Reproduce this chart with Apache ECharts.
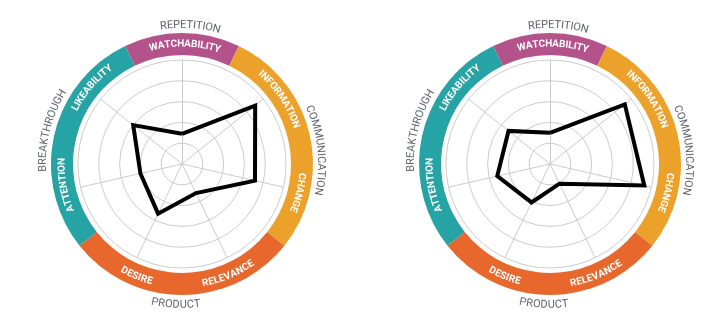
<!DOCTYPE html>
<html><head><meta charset="utf-8">
<script src="https://cdn.jsdelivr.net/npm/echarts@6/dist/echarts.min.js"></script>
<style>html,body{margin:0;padding:0;background:#fff}#c{width:722px;height:326px}</style>
</head><body><div id="c"></div>
<script>
// ---- data ----
const axisNames = ['WATCHABILITY','INFORMATION','CHANGE','RELEVANCE','DESIRE','ATTENTION','LIKEABILITY']; // clockwise from top
const groupNames = ['REPETITION','COMMUNICATION','PRODUCT','BREAKTHROUGH'];
const groupSizes = [1, 2, 2, 2]; // number of axes in each group
const leftValues  = [29, 90, 72, 31, 53, 41, 60];
const rightValues = [30, 92, 93, 21, 41, 52, 51];
const axisMax = 100;

// ---- styles / layout ----
const groupColors = ['#b4528c', '#eca12b', '#e7672c', '#26a3a5'];
const centers = [[182, 164], [550, 164]];
const gridR = 104, ringIn = 109, ringOut = 131;
const innerNudge = [1.4, 5, 1, 3, -3.7, 2.7, 1.7];
const groupNudge = [3.5, 7, 2.5, 1.5];

const n = axisNames.length;
const step = 360 / n;
// ECharts radar places indicators counter-clockwise; reorder so they read clockwise
const order = [0].concat(Array.from({length: n - 1}, (_, k) => n - 1 - k));

const ctx = document.createElement('canvas').getContext('2d');
function arcText(els, cx, cy, r, centerDeg, text, font, fill, flip) {
  ctx.font = font;
  const chars = Array.from(text);
  const ws = chars.map(ch => ctx.measureText(ch).width);
  const total = ws.reduce((a, b) => a + b, 0);
  const c = centerDeg * Math.PI / 180;
  let acc = 0;
  chars.forEach((ch, i) => {
    const mid = (acc + ws[i] / 2 - total / 2) / r;
    acc += ws[i];
    const a = flip ? c - mid : c + mid;
    els.push({
      type: 'text', silent: true, z: 100, zlevel: 0,
      x: cx + r * Math.sin(a), y: cy - r * Math.cos(a),
      rotation: flip ? Math.PI - a : -a,
      style: {text: ch, font: font, fill: fill, align: 'center', verticalAlign: 'middle',
              textAlign: 'center', textVerticalAlign: 'middle'}
    });
  });
}

const chart = echarts.init(document.getElementById('c'), null, {renderer: 'canvas'});
const radars = [], series = [], graphics = [];
[leftValues, rightValues].forEach((vals, k) => {
  const [cx, cy] = centers[k];
  radars.push({
    center: [cx, cy], radius: gridR, startAngle: 90, shape: 'circle', splitNumber: 5,
    indicator: order.map(i => ({name: axisNames[i], max: axisMax, min: 0})),
    axisName: {show: false},
    splitLine: {lineStyle: {color: '#cccccc', width: 1}},
    splitArea: {show: false},
    axisLine: {lineStyle: {color: '#cccccc', width: 1}},
    axisTick: {show: false}, axisLabel: {show: false}
  });
  series.push({
    type: 'radar', radarIndex: k, symbol: 'none', silent: true,
    lineStyle: {color: '#000', width: 4, join: 'miter'},
    data: [{value: order.map(i => vals[i])}]
  });
  series.push({
    type: 'pie', center: [cx, cy], radius: [ringIn, ringOut], z: 1,
    startAngle: 90 + step / 2, clockwise: true, silent: true,
    label: {show: false}, labelLine: {show: false},
    itemStyle: {borderWidth: 0},
    data: groupNames.map((g, i) => ({name: g, value: groupSizes[i], itemStyle: {color: groupColors[i]}}))
  });
  // ring labels
  axisNames.forEach((nm, i) => {
    const ang = i * step + innerNudge[i];
    const flip = Math.cos(ang * Math.PI / 180) < -0.6;
    arcText(graphics, cx, cy, flip ? 121.5 : 120, ang, nm, '700 10px Roboto', '#ffffff', flip);
  });
  // group labels
  let start = -step / 2;
  groupNames.forEach((g, i) => {
    const ang = start + groupSizes[i] * step / 2 + groupNudge[i];
    start += groupSizes[i] * step;
    const flip = Math.cos(ang * Math.PI / 180) < -0.6;
    arcText(graphics, cx, cy, flip ? 141 : 139, ang, g, '400 11px Roboto', '#5d646e', flip);
  });
});

chart.setOption({
  animation: false,
  backgroundColor: '#ffffff',
  radar: radars,
  series: series,
  graphic: {elements: graphics}
});
</script></body></html>
